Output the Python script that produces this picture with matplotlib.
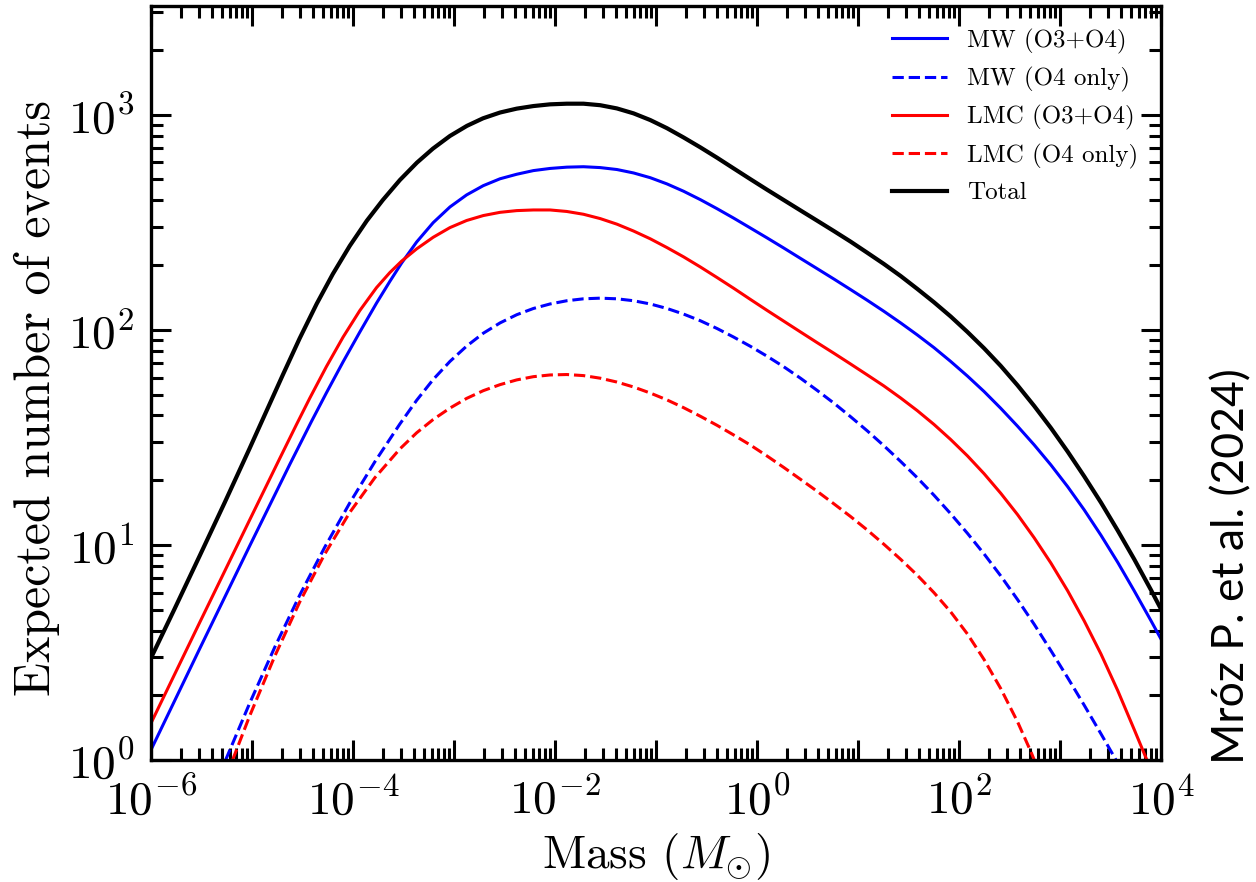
import numpy as np
import matplotlib
matplotlib.use('Agg')
import matplotlib.pyplot as plt
from matplotlib.ticker import LogLocator, NullFormatter

plt.rcParams['font.family'] = 'serif'
plt.rcParams['font.serif'] = ['cmr10']
plt.rcParams['mathtext.fontset'] = 'cm'
plt.rcParams['axes.formatter.use_mathtext'] = True

# values, as log10(mass / M_sun) and log10(expected events)
lm_total = [-6.0, -5.767, -5.519, -5.271, -5.023, -4.875, -4.696, -4.528, -4.359, -4.2,
            -4.032, -3.863, -3.705, -3.536, -3.367, -3.209, -3.04, -2.872, -2.713, -2.544,
            -2.379, -2.214, -2.049, -1.883, -1.718, -1.553, -1.387, -1.222, -1.057, -0.891,
            -0.727, -0.561, -0.396, -0.231, -0.065, 0.1, 0.265, 0.43, 0.596, 0.761,
            0.926, 1.092, 1.256, 1.422, 1.587, 1.752, 1.917, 2.083, 2.248, 2.413,
            2.579, 2.744, 2.909, 3.075, 3.239, 3.405, 3.571, 3.735, 3.901, 4.0]
ln_total = [0.474, 0.702, 0.948, 1.196, 1.449, 1.603, 1.789, 1.96, 2.121, 2.259,
            2.39, 2.507, 2.603, 2.696, 2.777, 2.842, 2.901, 2.948, 2.983, 3.01,
            3.028, 3.04, 3.048, 3.051, 3.051, 3.044, 3.029, 3.006, 2.975, 2.937,
            2.894, 2.848, 2.8, 2.75, 2.7, 2.651, 2.603, 2.555, 2.507, 2.459,
            2.41, 2.358, 2.306, 2.25, 2.19, 2.128, 2.062, 1.99, 1.914, 1.832,
            1.742, 1.646, 1.544, 1.434, 1.319, 1.197, 1.067, 0.933, 0.79, 0.701]

lm_mw = [-6.0, -5.519, -5.023, -4.627, -4.412, -4.263, -4.098, -3.933, -3.767, -3.635,
         -3.519, -3.37, -3.206, -3.04, -2.875, -2.71, -2.544, -2.379, -2.214, -2.049,
         -1.883, -1.718, -1.553, -1.387, -1.222, -1.057, -0.891, -0.727, -0.561, -0.396,
         -0.231, -0.065, 0.1, 0.265, 0.43, 0.596, 0.761, 0.926, 1.092, 1.256,
         1.422, 1.587, 1.752, 1.917, 2.083, 2.248, 2.413, 2.579, 2.744, 2.909,
         3.075, 3.239, 3.405, 3.571, 3.735, 3.901, 4.0]
ln_mw = [0.047, 0.516, 0.995, 1.373, 1.573, 1.707, 1.851, 1.989, 2.124, 2.225,
         2.31, 2.408, 2.498, 2.571, 2.627, 2.67, 2.702, 2.723, 2.74, 2.75,
         2.756, 2.758, 2.754, 2.745, 2.729, 2.707, 2.678, 2.644, 2.605, 2.563,
         2.519, 2.473, 2.427, 2.38, 2.332, 2.284, 2.236, 2.187, 2.137, 2.086,
         2.032, 1.976, 1.917, 1.853, 1.785, 1.713, 1.635, 1.552, 1.465, 1.372,
         1.271, 1.163, 1.045, 0.919, 0.786, 0.647, 0.562]

lm_lmc = [-6.0, -5.519, -5.023, -4.726, -4.56, -4.428, -4.263, -4.098, -3.933, -3.767,
          -3.635, -3.519, -3.37, -3.206, -3.04, -2.875, -2.71, -2.544, -2.379, -2.214,
          -2.049, -1.883, -1.718, -1.553, -1.387, -1.222, -1.057, -0.891, -0.727, -0.561,
          -0.396, -0.231, -0.065, 0.1, 0.265, 0.43, 0.596, 0.761, 0.926, 1.092,
          1.256, 1.422, 1.587, 1.752, 1.917, 2.083, 2.248, 2.413, 2.579, 2.744,
          2.909, 3.075, 3.239, 3.405, 3.571, 3.735, 3.86]
ln_lmc = [0.171, 0.638, 1.116, 1.401, 1.559, 1.682, 1.829, 1.966, 2.089, 2.196,
          2.266, 2.319, 2.376, 2.43, 2.475, 2.508, 2.531, 2.546, 2.554, 2.557,
          2.557, 2.55, 2.537, 2.517, 2.491, 2.459, 2.423, 2.382, 2.339, 2.292,
          2.243, 2.193, 2.141, 2.09, 2.04, 1.99, 1.94, 1.891, 1.841, 1.79,
          1.739, 1.683, 1.624, 1.56, 1.49, 1.414, 1.331, 1.24, 1.141, 1.033,
          0.916, 0.787, 0.647, 0.493, 0.323, 0.141, 0.0]

lm_mw_o4 = [-5.261, -5.023, -4.775, -4.528, -4.28, -4.032, -3.784, -3.536, -3.37, -3.206,
            -3.04, -2.875, -2.71, -2.544, -2.379, -2.214, -2.049, -1.883, -1.718, -1.553,
            -1.387, -1.222, -1.057, -0.891, -0.727, -0.561, -0.396, -0.231, -0.065, 0.1,
            0.265, 0.43, 0.596, 0.761, 0.926, 1.092, 1.256, 1.422, 1.587, 1.752,
            1.917, 2.083, 2.248, 2.413, 2.579, 2.744, 2.909, 3.075, 3.239, 3.405, 3.554]
ln_mw_o4 = [0.0, 0.264, 0.524, 0.766, 0.989, 1.195, 1.386, 1.562, 1.672, 1.769,
            1.853, 1.924, 1.984, 2.032, 2.07, 2.099, 2.12, 2.135, 2.144, 2.147,
            2.144, 2.135, 2.12, 2.099, 2.073, 2.042, 2.006, 1.966, 1.923, 1.877,
            1.828, 1.775, 1.718, 1.659, 1.596, 1.53, 1.461, 1.388, 1.312, 1.231,
            1.145, 1.054, 0.958, 0.856, 0.746, 0.631, 0.509, 0.383, 0.255, 0.122, 0.0]

lm_lmc_o4 = [-5.192, -5.023, -4.775, -4.528, -4.28, -4.032, -3.784, -3.536, -3.37, -3.206,
             -3.04, -2.875, -2.71, -2.544, -2.379, -2.214, -2.049, -1.883, -1.718, -1.553,
             -1.387, -1.222, -1.057, -0.891, -0.727, -0.561, -0.396, -0.231, -0.065, 0.1,
             0.265, 0.43, 0.596, 0.761, 0.926, 1.092, 1.256, 1.422, 1.587, 1.752,
             1.917, 2.083, 2.248, 2.413, 2.579, 2.711, 2.745]
ln_lmc_o4 = [0.0, 0.205, 0.482, 0.734, 0.957, 1.151, 1.312, 1.446, 1.521, 1.583,
             1.636, 1.681, 1.717, 1.745, 1.767, 1.782, 1.79, 1.792, 1.787, 1.775,
             1.757, 1.734, 1.706, 1.674, 1.638, 1.598, 1.556, 1.511, 1.464, 1.413,
             1.36, 1.305, 1.249, 1.191, 1.132, 1.069, 1.003, 0.933, 0.859, 0.778,
             0.689, 0.586, 0.467, 0.332, 0.178, 0.039, 0.0]

series = [
    (lm_mw, ln_mw, 'blue', '-', 1.1, 'MW (O3+O4)'),
    (lm_mw_o4, ln_mw_o4, 'blue', '--', 1.1, 'MW (O4 only)'),
    (lm_lmc, ln_lmc, 'red', '-', 1.1, 'LMC (O3+O4)'),
    (lm_lmc_o4, ln_lmc_o4, 'red', '--', 1.1, 'LMC (O4 only)'),
    (lm_total, ln_total, 'black', '-', 1.5, 'Total'),
]

fig = plt.figure(figsize=(6.28, 4.41), dpi=200)
ax = fig.add_axes([0.1202, 0.1383, 0.8042, 0.8549])

for lm, ln, c, ls, lw, lab in series:
    ax.plot(10 ** np.array(lm), 10 ** np.array(ln), color=c, ls=ls, lw=lw, label=lab)

ax.set_xscale('log')
ax.set_yscale('log')
ax.set_xlim(1e-6, 1e4)
ax.set_ylim(1, 3.2e3)

ax.set_xticks([10.0 ** k for k in range(-6, 5)])
ax.set_xticklabels([r'$10^{%d}$' % k if k % 2 == 0 else '' for k in range(-6, 5)])
ax.xaxis.set_minor_locator(LogLocator(base=10, subs=np.arange(2, 10), numticks=30))
ax.xaxis.set_minor_formatter(NullFormatter())
ax.set_yticks([1, 10, 100, 1000])
ax.set_yticklabels([r'$10^{%d}$' % k for k in range(4)])
ax.yaxis.set_minor_locator(LogLocator(base=10, subs=np.arange(2, 10), numticks=30))
ax.yaxis.set_minor_formatter(NullFormatter())

ax.tick_params(which='both', direction='in', top=True, right=True, width=1.1, labelsize=17, pad=6)
ax.tick_params(which='major', length=7.2)
ax.tick_params(which='minor', length=4.3)
for s in ax.spines.values():
    s.set_linewidth(1.2)

ax.set_xlabel(r'Mass ($M_{\odot}$)', fontsize=17, labelpad=3)
ax.set_ylabel('Expected number of events', fontsize=18)
ax.yaxis.set_label_coords(-0.09, 0.48)

ax.legend(loc='upper right', frameon=False, fontsize=9, handlelength=2.2,
          handletextpad=0.8, labelspacing=0.53, borderaxespad=0.5)

fig.text(0.981, 0.358, 'Mróz P. et al. (2024)', rotation=90, ha='center', va='center',
         fontsize=16, family='Lato')

fig.savefig('out.png', dpi=200)
